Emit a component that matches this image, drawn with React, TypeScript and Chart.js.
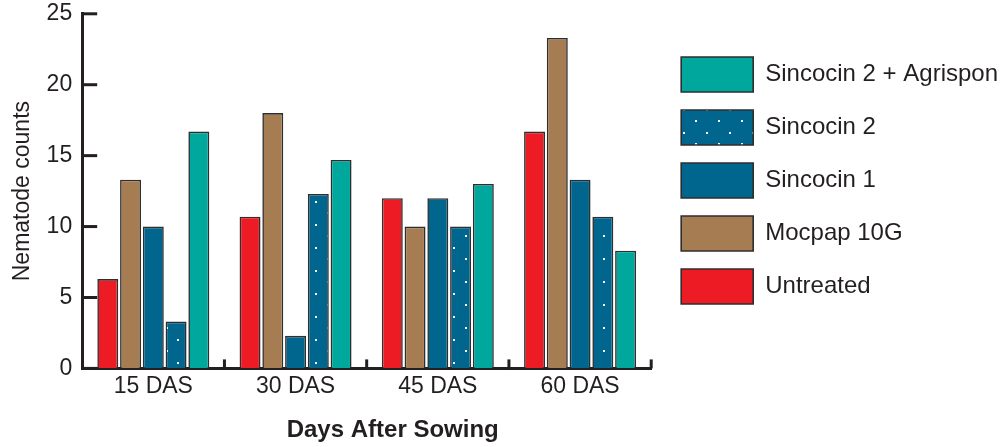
import { useEffect, useRef } from 'react';
import { Chart, registerables } from 'chart.js';

Chart.register(...registerables);

const categories = ['15 DAS', '30 DAS', '45 DAS', '60 DAS'];
const seriesNames = ['Untreated', 'Mocpap 10G', 'Sincocin 1', 'Sincocin 2', 'Sincocin 2 + Agrispon'];
const untreated = [6.3, 10.7, 12, 16.7];
const mocpap10G = [13.3, 18, 10, 23.3];
const sincocin1 = [10, 2.3, 12, 13.3];
const sincocin2 = [3.3, 12.3, 10, 10.7];
const sincocin2Agrispon = [16.7, 14.7, 13, 8.3];
const yTicks = [0, 5, 10, 15, 20, 25];
const yTitle = 'Nematode counts';
const xTitle = 'Days After Sowing';

const TEXT = '#231F20';
const FONT = '"Liberation Sans", Arial, sans-serif';

function makeDotPattern(ctx: CanvasRenderingContext2D, base: string) {
  const c = document.createElement('canvas');
  c.width = 23;
  c.height = 23;
  const g = c.getContext('2d')!;
  g.fillStyle = base;
  g.fillRect(0, 0, 23, 23);
  g.fillStyle = '#ffffff';
  g.fillRect(5, 5, 2, 2);
  g.fillRect(16, 17, 2, 2);
  return ctx.createPattern(c, 'repeat')!;
}

const axisDecor = {
  id: 'axisDecor',
  afterDraw(chart: any) {
    const { ctx, chartArea, scales } = chart;
    const x = scales.x;
    const y = scales.y;
    ctx.save();
    ctx.strokeStyle = TEXT;
    ctx.lineWidth = 3;
    ctx.lineCap = 'butt';
    y.ticks.forEach((t: any) => {
      const py = y.getPixelForValue(t.value);
      ctx.beginPath();
      ctx.moveTo(chartArea.left, py);
      ctx.lineTo(chartArea.left + 15, py);
      ctx.stroke();
    });
    const n = x.ticks.length;
    for (let i = 1; i <= n; i++) {
      const px = x.left + (x.width * i) / n;
      ctx.beginPath();
      ctx.moveTo(px, chartArea.bottom);
      ctx.lineTo(px, chartArea.bottom - 9);
      ctx.stroke();
    }
    ctx.fillStyle = TEXT;
    ctx.font = 'bold 24px ' + FONT;
    ctx.textAlign = 'center';
    ctx.textBaseline = 'middle';
    ctx.fillText(xTitle, (chartArea.left + chartArea.right) / 2 + 26, chartArea.bottom + 62);
    ctx.restore();
  },
};

export default function App() {
  const ref = useRef<HTMLCanvasElement>(null);

  useEffect(() => {
    document.body.style.margin = '0';
    const canvas = ref.current!;
    const ctx = canvas.getContext('2d')!;
    const dots = makeDotPattern(ctx, '#00668E');
    const border = '#2E2E2E';
    const bw = 1.6;
    const chart = new Chart(canvas, {
      type: 'bar',
      data: {
        labels: categories,
        datasets: [
          { label: seriesNames[0], data: untreated, backgroundColor: '#ED1C24', borderColor: border, borderWidth: bw },
          { label: seriesNames[1], data: mocpap10G, backgroundColor: '#A67C52', borderColor: border, borderWidth: bw },
          { label: seriesNames[2], data: sincocin1, backgroundColor: '#00668E', borderColor: border, borderWidth: bw },
          { label: seriesNames[3], data: sincocin2, backgroundColor: dots as any, borderColor: border, borderWidth: bw },
          { label: seriesNames[4], data: sincocin2Agrispon, backgroundColor: '#00A79D', borderColor: border, borderWidth: bw },
        ],
      },
      options: {
        responsive: false,
        animation: false,
        layout: { padding: { left: 0, right: -4, top: 0, bottom: 47 } },
        datasets: { bar: { categoryPercentage: 0.8, barPercentage: 0.92 } },
        scales: {
          x: {
            z: 1,
            grid: { display: true, color: 'transparent', drawOnChartArea: false, drawTicks: true, tickLength: 4 },
            border: { display: true, color: TEXT, width: 3 },
            ticks: { color: TEXT, font: { family: FONT, size: 23 }, padding: 0 },
          },
          y: {
            z: 1,
            min: 0,
            max: 25,
            afterBuildTicks: (s: any) => {
              s.ticks = yTicks.map((v) => ({ value: v }));
            },
            grid: { display: true, color: 'transparent', drawOnChartArea: false, drawTicks: true, tickLength: 10 },
            border: { display: true, color: TEXT, width: 3 },
            ticks: { color: TEXT, font: { family: FONT, size: 23 }, padding: 0 },
            title: {
              display: true,
              text: yTitle,
              color: TEXT,
              font: { family: FONT, size: 23 },
              padding: { top: 9, bottom: 10 },
            },
          },
          gap: {
            type: 'linear',
            position: 'right',
            display: true,
            grid: { display: false, drawTicks: false },
            border: { display: false },
            ticks: { display: false },
            afterFit: (s: any) => {
              s.width = 12;
            },
          },
        },
        plugins: {
          tooltip: { enabled: false },
          legend: {
            position: 'right',
            align: 'start',
            reverse: true,
            maxWidth: 500,
            title: { display: true, text: '', padding: { top: 27, bottom: 0 }, font: { size: 10 } },
            labels: {
              boxWidth: 72,
              boxHeight: 35,
              padding: 18,
              color: TEXT,
              font: { family: FONT, size: 24 },
            },
          },
        },
      } as any,
      plugins: [axisDecor],
    });
    return () => chart.destroy();
  }, []);

  return (
    <div style={{ width: 1004, height: 447, position: 'relative' }}>
      <canvas ref={ref} width={1004} height={447} style={{ display: 'block' }} />
    </div>
  );
}
